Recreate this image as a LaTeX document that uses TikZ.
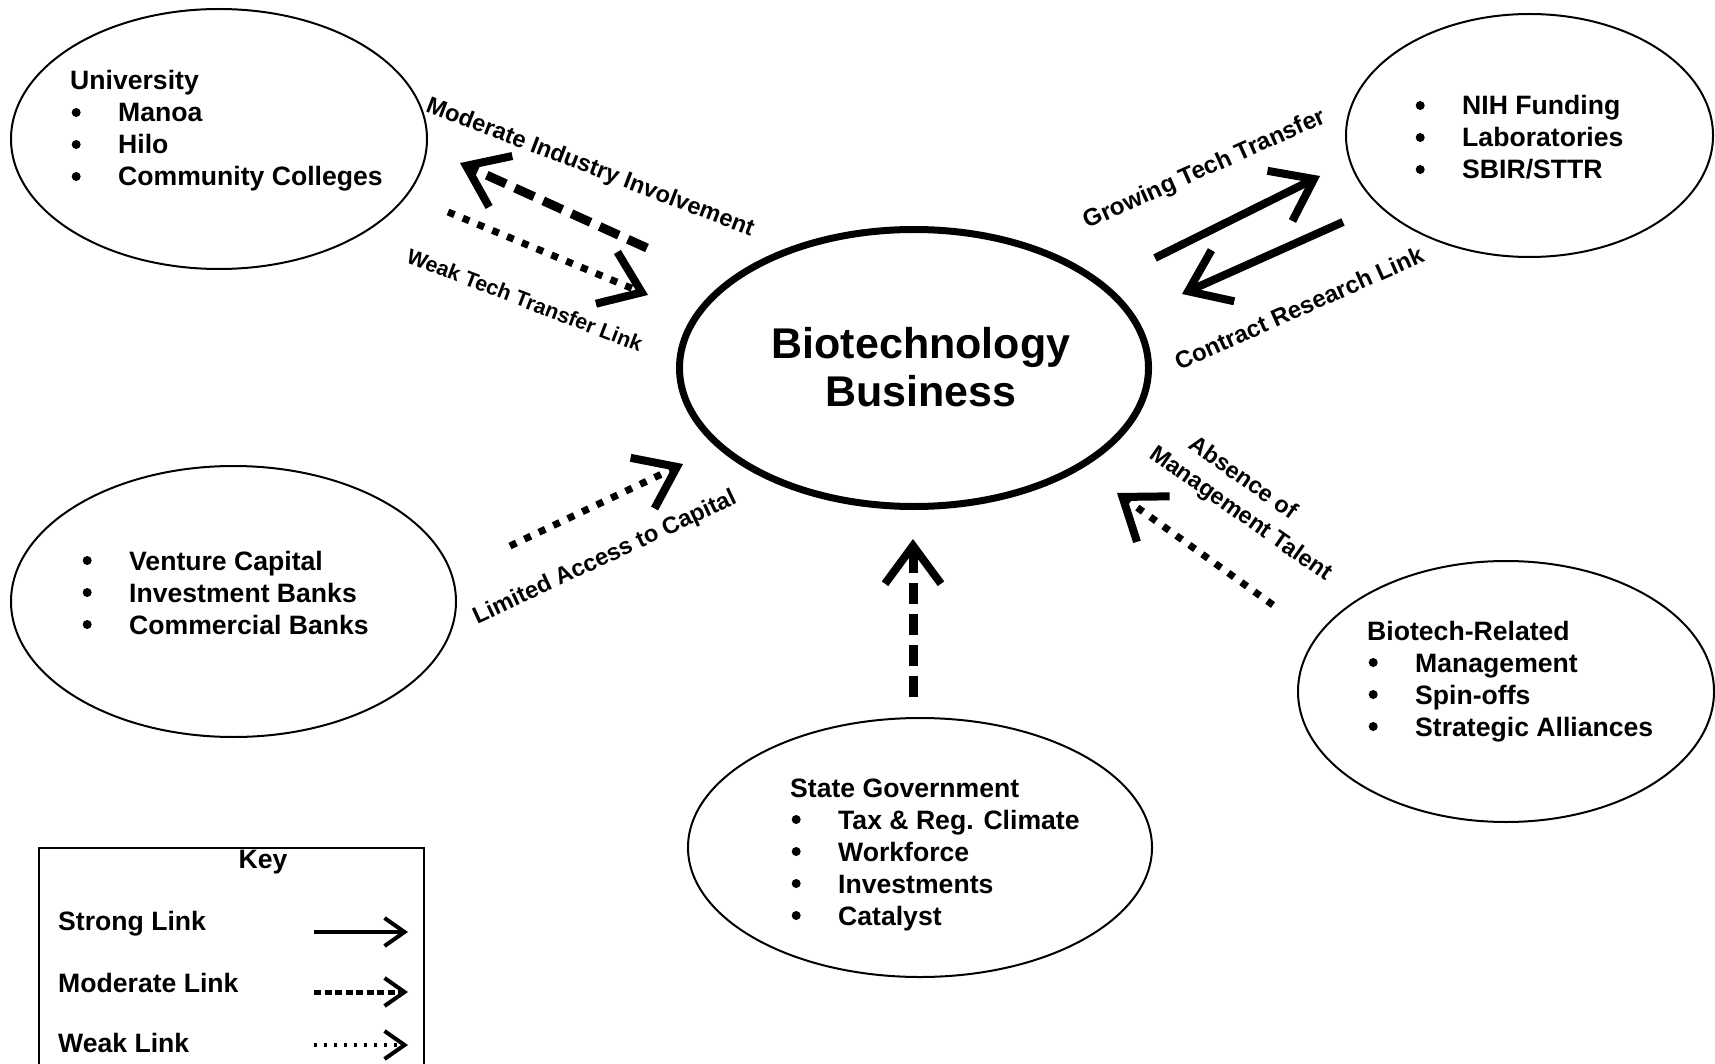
\documentclass[tikz,border=0pt]{standalone}
\usepackage{fontspec}
\setmainfont{Liberation Sans}
\usetikzlibrary{shapes.geometric,arrows.meta}
\newcommand\bul{\makebox[48pt][l]{\hspace{1.5pt}\tikz[baseline=0pt]\fill (4.5pt,9.5pt) circle (4.5pt);}}
\newcommand\lst[1]{\begin{tabular}[t]{@{}l@{}}#1\end{tabular}}
\begin{document}
\begin{tikzpicture}[x=1pt,y=-1pt,
  region/.style={draw, ellipse, line width=2pt, inner sep=0pt},
  listtext/.style={anchor=base west, inner sep=0pt, font=\fontsize{26.6}{32}\selectfont\bfseries},
  linklabel/.style={inner sep=0pt, font=\fontsize{23.6}{28}\selectfont\bfseries},
  bighead/.style={-{Straight Barb[length=38pt 0, width=56pt 0, line width=8pt 0]}},
  strongarrow/.style={line width=8pt, bighead},
  modarrow/.style={line width=9pt, dash pattern=on 21pt off 10pt, bighead},
  weakarrow/.style={line width=7pt, dash pattern=on 7pt off 9pt, bighead},
  keyhead/.style={-{Straight Barb[length=20pt 0, width=28pt 0, line width=4pt 0]}},
  keystrong/.style={line width=4pt, keyhead},
  keymod/.style={line width=5pt, dash pattern=on 7pt off 3.5pt, keyhead},
  keyweak/.style={line width=3.2pt, dash pattern=on 3.2pt off 6.8pt, keyhead}]
\useasboundingbox (0,0) rectangle (1715,1064);
\clip (0,0) rectangle (1715,1064);

% regions
\node[region, minimum width=416pt, minimum height=260pt] (univ) at (219,139) {};
\node[region, minimum width=367pt, minimum height=243pt] (nih) at (1529.5,135.5) {};
\node[region, line width=7pt, minimum width=469pt, minimum height=277pt] (biz) at (914,368) {};
\node[region, minimum width=445pt, minimum height=271pt] (vc) at (233.5,601.5) {};
\node[region, minimum width=416pt, minimum height=261pt] (rel) at (1506,691.5) {};
\node[region, minimum width=464pt, minimum height=259pt] (state) at (920,847.5) {};

% region texts
\node[listtext] (univtext) at (70,90) {\lst{University\\ \bul Manoa\\ \bul Hilo\\ \bul Community Colleges}};
\node[listtext] (nihtext) at (1414,115) {\lst{\bul NIH Funding\\ \bul Laboratories\\ \bul SBIR/STTR}};
\node[listtext] (vctext) at (81,570) {\lst{\bul Venture Capital\\ \bul Investment Banks\\ \bul Commercial Banks}};
\node[listtext] (reltext) at (1367,640) {\lst{Biotech-Related\\ \bul Management\\ \bul Spin-offs\\ \bul Strategic Alliances}};
\node[listtext] (statetext) at (790,797) {\lst{State Government\\ \bul Tax \& Reg. Climate\\ \bul Workforce\\ \bul Investments\\ \bul Catalyst}};
\node[anchor=base, inner sep=0pt, font=\fontsize{43}{48}\selectfont\bfseries] (biztext) at (921,358)
  {\begin{tabular}[t]{@{}c@{}}Biotechnology\\Business\end{tabular}};

% arrow end points
\coordinate (a1s) at (647,248); \coordinate (a1e) at (460,163);
\coordinate (a2s) at (448,212); \coordinate (a2e) at (648,295);
\coordinate (a3s) at (1155,258); \coordinate (a3e) at (1320,176);
\coordinate (a4s) at (1343,222); \coordinate (a4e) at (1182,294);
\coordinate (a5s) at (510,546); \coordinate (a5e) at (683,464);
\coordinate (a6s) at (1273,605); \coordinate (a6e) at (1117,493);
\coordinate (a7s) at (913,697); \coordinate (a7e) at (913,539);

\draw[modarrow] (a1s) -- (a1e);
\draw[weakarrow] (a2s) -- (a2e);
\draw[strongarrow] (a3s) -- (a3e);
\draw[strongarrow] (a4s) -- (a4e);
\draw[weakarrow] (a5s) -- (a5e);
\draw[weakarrow] (a6s) -- (a6e);
\draw[modarrow] (a7s) -- (a7e);

% link labels
\node[linklabel, rotate=-21] (l1) at (590,168) {Moderate Industry Involvement};
\node[linklabel, rotate=-21, font=\fontsize{21.4}{25}\selectfont\bfseries] (l2) at (525,300) {Weak Tech Transfer Link};
\node[linklabel, rotate=24, font=\fontsize{24.2}{28}\selectfont\bfseries] (l3) at (1205,170) {Growing Tech Transfer};
\node[linklabel, rotate=24, font=\fontsize{24}{28}\selectfont\bfseries] (l4) at (1299,308) {Contract Research Link};
\node[linklabel, rotate=25] (l5) at (605,558) {Limited Access to Capital};
\node[linklabel, rotate=-35, align=left, font=\fontsize{23.4}{30}\selectfont\bfseries] (l6) at (1249,502)
  {\hspace*{27pt}Absence of\\Management Talent};

% key
\node[draw, line width=2pt, anchor=north west, minimum width=385pt, minimum height=260pt, inner sep=0pt] (keybox) at (38,847) {};
\node[anchor=base, inner sep=0pt, font=\fontsize{26.6}{32}\selectfont\bfseries] (keytitle) at (263,868) {Key};
\node[listtext] (kstext) at (58,930) {Strong Link};
\node[listtext] (kmtext) at (58,992) {Moderate Link};
\node[listtext] (kwtext) at (58,1052) {Weak Link};
\coordinate (ks1) at (314,932); \coordinate (ks2) at (408,932);
\coordinate (km1) at (314,992); \coordinate (km2) at (408,992);
\coordinate (kw1) at (314,1045); \coordinate (kw2) at (408,1045);
\draw[keystrong] (ks1) -- (ks2);
\draw[keymod] (km1) -- (km2);
\draw[keyweak] (kw1) -- (kw2);
\end{tikzpicture}
\end{document}
